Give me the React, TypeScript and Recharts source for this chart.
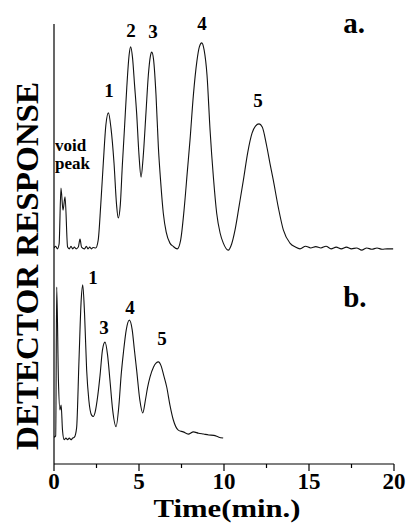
import React from 'react';
import {
  LineChart,
  Line,
  XAxis,
  YAxis,
  ReferenceDot
} from 'recharts';

// time (min) and detector response (arbitrary units, 0-100)
const TIME_A = [
  0.0, 0.1, 0.2, 0.3, 0.41, 0.53, 0.65, 0.8, 0.9, 1.0, 1.1, 1.2, 1.3, 1.43, 1.53, 1.62, 1.8, 1.9, 2.0, 2.1, 2.2, 2.3, 2.45,
  2.6, 2.75, 2.9, 3.05, 3.2, 3.35, 3.53, 3.68, 3.78,
  3.9, 4.02, 4.14, 4.28, 4.42, 4.51, 4.62, 4.74, 4.86, 5.0, 5.12,
  5.24, 5.41, 5.55, 5.67, 5.75, 5.86, 6.0, 6.14, 6.28, 6.43, 6.6, 6.82, 7.0, 7.25,
  7.45, 7.65, 7.85, 8.0, 8.2, 8.4, 8.55, 8.69, 8.83, 9.0, 9.18, 9.38, 9.57, 9.77, 9.96, 10.25,
  10.45, 10.65, 10.9, 11.14, 11.4, 11.65, 11.85, 12.06, 12.25, 12.5, 12.7, 12.9, 13.2, 13.49, 13.88, 14.2, 14.47,
  14.8, 15.1, 15.4, 15.7, 16.0, 16.3, 16.6, 16.9, 17.2, 17.5, 17.8, 18.1, 18.4, 18.7, 19.0, 19.3, 19.6, 19.95
];
const RESPONSE_A = [
  49.1, 49.5, 48.9, 50.0, 62.7, 57.7, 60.7, 49.3, 48.9, 49.5, 48.9, 49.3, 48.9, 49.3, 51.1, 49.3, 48.9, 49.5, 48.9, 49.3, 48.9, 49.2, 49.1,
  50.9, 58.9, 68.4, 77.0, 79.8, 76.4, 68.4, 58.9, 55.9,
  58.9, 67.9, 75.9, 85.5, 93.0, 94.8, 92.3, 86.1, 79.8, 70.2, 65.2,
  69.5, 79.8, 88.4, 92.7, 93.6, 91.8, 83.9, 72.0, 63.9, 57.0, 52.7, 50.2, 49.5, 48.9,
  50.9, 57.7, 66.8, 73.6, 83.9, 91.4, 94.8, 95.7, 94.1, 88.4, 75.9, 65.0, 57.0, 52.5, 50.2, 48.6,
  50.0, 53.2, 58.9, 64.5, 70.9, 75.2, 76.8, 77.3, 76.6, 72.5, 68.4, 64.5, 58.2, 53.2, 50.2, 49.3, 48.9,
  49.5, 49.1, 49.4, 49.1, 49.5, 48.9, 49.3, 48.9, 49.3, 48.9, 49.1, 48.6, 49.1, 48.8, 49.1, 48.8, 48.9, 48.9
];

const TIME_B = [
  0.0, 0.1, 0.16, 0.26, 0.35, 0.42, 0.5, 0.6, 0.7, 0.8, 0.9, 1.0, 1.1, 1.2,
  1.33, 1.47, 1.6, 1.69, 1.8, 1.92, 2.05, 2.21, 2.31,
  2.42, 2.58, 2.71, 2.85, 3.0, 3.15, 3.29, 3.45, 3.65,
  3.82, 3.95, 4.08, 4.25, 4.43, 4.6, 4.73, 4.86, 5.05, 5.22,
  5.38, 5.5, 5.65, 5.85, 6.0, 6.14, 6.3, 6.45, 6.63, 6.82, 7.02, 7.31,
  7.6, 7.9, 8.2, 8.5, 8.8, 9.1, 9.4, 9.7, 9.95
];
const RESPONSE_B = [
  6.1, 6.4, 40.2, 19.1, 12.3, 13.4, 7.7, 5.5, 5.9, 5.5, 5.9, 5.5, 5.9, 6.1,
  8.2, 23.6, 37.3, 40.7, 33.9, 21.4, 14.5, 11.1, 10.8,
  11.8, 15.7, 20.2, 25.9, 27.7, 24.8, 19.1, 12.3, 8.5,
  13.4, 20.2, 25.2, 30.5, 32.7, 30.5, 25.9, 21.4, 14.5, 11.6,
  14.6, 17.3, 19.8, 22.0, 22.9, 23.2, 22.3, 20.2, 17.5, 13.4, 10.0, 7.7,
  7.3, 6.8, 7.3, 7.0, 6.8, 6.6, 6.5, 6.1, 5.9
];

const X_TICKS = [0, 2.5, 5, 7.5, 10, 12.5, 15, 17.5, 20];

// peak annotations: [time, response, text]
const LABELS_A: [number, number, string][] = [
  [3.24, 85.0, '1'],
  [4.53, 98.6, '2'],
  [5.82, 98.2, '3'],
  [8.71, 100.2, '4'],
  [12.0, 82.7, '5']
];
const LABELS_B: [number, number, string][] = [
  [2.29, 42.3, '1'],
  [2.94, 31.1, '3'],
  [4.47, 35.5, '4'],
  [6.35, 28.6, '5']
];
const PANEL_LABELS: [number, number, string][] = [
  [17.65, 100.2, 'a.'],
  [17.7, 38.0, 'b.']
];
const VOID_LABEL: [number, number, number, string, string] = [0.06, 72.3, 68.3, 'void', 'peak'];

const toRows = (ts: number[], vs: number[]) => ts.map((t, i) => ({ t, r: vs[i] }));
const traceA = toRows(TIME_A, RESPONSE_A);
const traceB = toRows(TIME_B, RESPONSE_B);

const FONT = '"Liberation Serif", "Times New Roman", serif';
const BOLD = { fontFamily: FONT, fontWeight: 700 };

const XTick = (props: any) => {
  const { x, y, payload } = props;
  const major = payload.value % 5 === 0;
  return (
    <g>
      <line x1={x} y1={y} x2={x} y2={y + (major ? 7 : 4)} stroke="#000" strokeWidth={1.2} />
      {major && (
        <text x={x} y={y + 25} textAnchor="middle" fontSize={23} style={BOLD} fill="#000">
          {payload.value}
        </text>
      )}
    </g>
  );
};

const XTitle = (props: any) => {
  const { viewBox } = props;
  return (
    <text
      x={viewBox.x + viewBox.width / 2 + 3}
      y={viewBox.y + 53}
      textAnchor="middle"
      fontSize={26}
      style={BOLD}
      fill="#000"
      textLength={147}
      lengthAdjust="spacingAndGlyphs"
    >
      Time(min.)
    </text>
  );
};

const YTitle = (props: any) => {
  const { viewBox } = props;
  const cx = 38;
  const cy = viewBox.y + viewBox.height / 2 + 22;
  return (
    <text
      x={cx}
      y={cy}
      transform={`rotate(-90 ${cx} ${cy})`}
      textAnchor="middle"
      fontSize={32}
      style={BOLD}
      fill="#000"
      textLength={368}
      lengthAdjust="spacingAndGlyphs"
    >
      DETECTOR RESPONSE
    </text>
  );
};

const textShape = (text: string, size: number, anchor: 'middle' | 'start' = 'middle') => (p: any) => (
  <text
    x={p.cx}
    y={p.cy}
    textAnchor={anchor}
    dominantBaseline="central"
    fontSize={size}
    style={BOLD}
    fill="#000"
  >
    {text}
  </text>
);

export default function App() {
  return (
    <div style={{ position: 'absolute', left: 0, top: 0 }}>
      <LineChart width={406} height={523} margin={{ top: 24, right: 12, bottom: 0, left: 0 }}>
        <XAxis
          dataKey="t"
          type="number"
          domain={[0, 20]}
          ticks={X_TICKS}
          interval={0}
          height={59}
          tickSize={0}
          tickMargin={0}
          tickLine={false}
          tick={<XTick />}
          axisLine={{ stroke: '#000', strokeWidth: 1.2 }}
          label={<XTitle />}
          allowDataOverflow
        />
        <YAxis
          type="number"
          domain={[0, 100]}
          width={54}
          tick={false}
          tickLine={false}
          axisLine={{ stroke: '#000', strokeWidth: 1.2 }}
          label={<YTitle />}
          allowDataOverflow
        />
        <Line
          data={traceA}
          dataKey="r"
          type="monotone"
          stroke="#111"
          strokeWidth={1.1}
          dot={false}
          isAnimationActive={false}
        />
        <Line
          data={traceB}
          dataKey="r"
          type="monotone"
          stroke="#111"
          strokeWidth={1.1}
          dot={false}
          isAnimationActive={false}
        />
        {LABELS_A.concat(LABELS_B).map(([t, v, s], i) => (
          <ReferenceDot key={`pk-${i}`} x={t} y={v} r={0} ifOverflow="visible" shape={textShape(s, 19)} />
        ))}
        {PANEL_LABELS.map(([t, v, s], i) => (
          <ReferenceDot key={`pn-${i}`} x={t} y={v} r={0} ifOverflow="visible" shape={textShape(s, 29)} />
        ))}
        <ReferenceDot x={VOID_LABEL[0]} y={VOID_LABEL[1]} r={0} ifOverflow="visible" shape={textShape(VOID_LABEL[3], 17, 'start')} />
        <ReferenceDot x={VOID_LABEL[0]} y={VOID_LABEL[2]} r={0} ifOverflow="visible" shape={textShape(VOID_LABEL[4], 17, 'start')} />
      </LineChart>
    </div>
  );
}
